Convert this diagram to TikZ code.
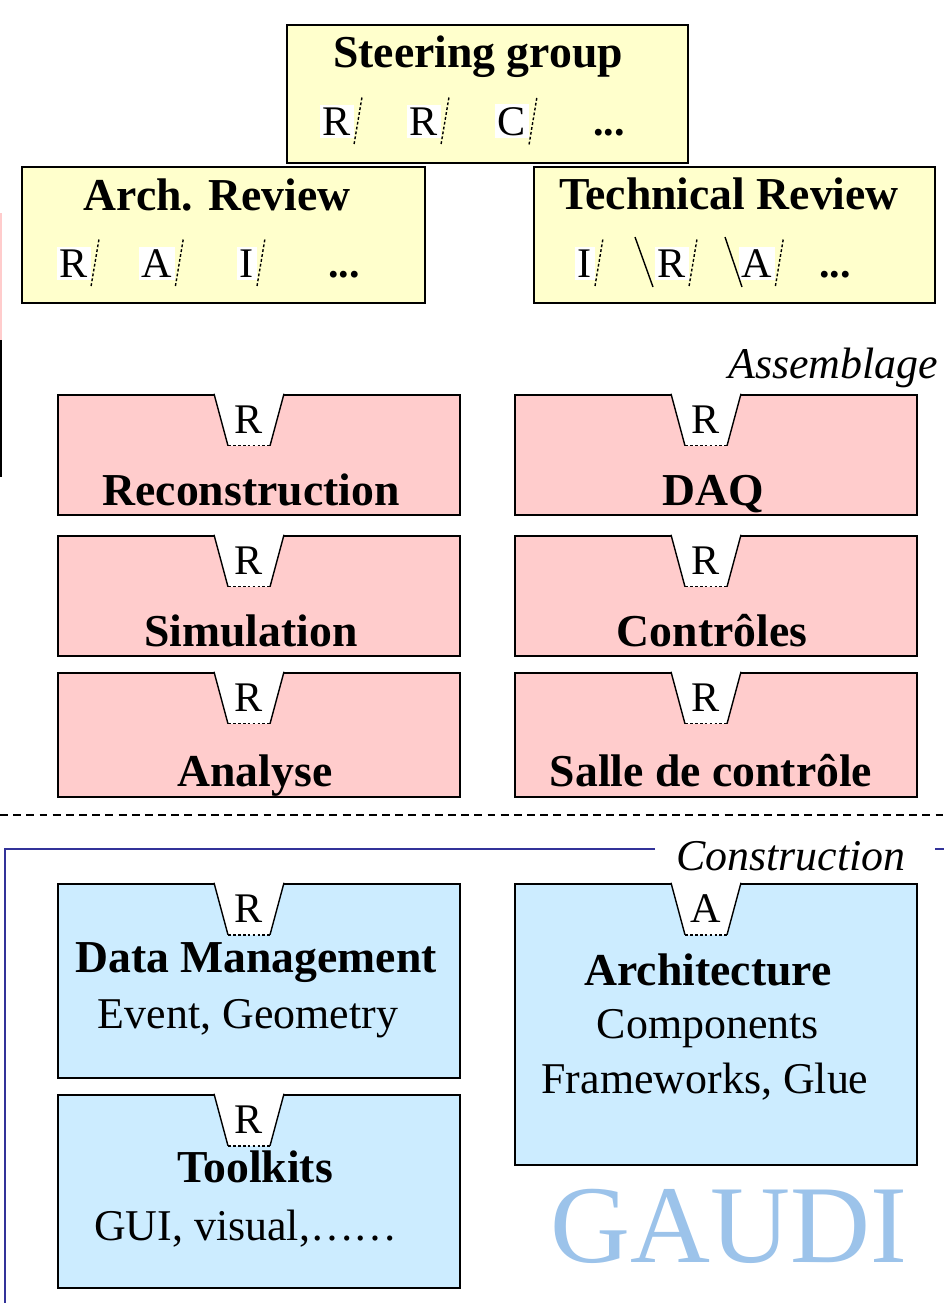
\documentclass[tikz,border=0pt]{standalone}
\usepackage{fontspec}
\setmainfont{Liberation Serif}
\usetikzlibrary{calc}
\definecolor{reviewfill}{HTML}{FFFFCC}
\definecolor{assemfill}{HTML}{FFCCCC}
\definecolor{constfill}{HTML}{CCECFF}
\definecolor{framecolor}{HTML}{333399}
\definecolor{gaudicolor}{HTML}{9CC3EA}
\tikzset{
  gd review/.style={draw=black,line width=1.4pt,fill=reviewfill,inner sep=0pt},
  gd assem/.style={draw=black,line width=1.4pt,fill=assemfill,inner sep=0pt,minimum width=8.04cm},
  gd const/.style={draw=black,line width=1.4pt,fill=constfill,inner sep=0pt,minimum width=8.04cm},
  gd title/.style={font=\fontsize{26}{30}\selectfont\bfseries,inner sep=0pt,anchor=base},
  gd text/.style={font=\fontsize{25}{29}\selectfont,inner sep=0pt,anchor=base},
  gd letter/.style={font=\fontsize{24}{28}\selectfont,inner sep=1.5pt,anchor=base},
  gd slash/.style={black,line width=.8pt,dash pattern=on 1.6pt off 1.2pt},
  gd side/.style={black,line width=.8pt},
  gd zone/.style={font=\fontsize{25}{29}\selectfont\itshape,inner sep=0pt,anchor=base west},
  gd frame/.style={framecolor,line width=1.3pt},
  gd cut/.style={black,line width=1.3pt,dash pattern=on 4.5pt off 3pt}
}

\begin{document}
\begin{tikzpicture}[x=0.02cm,y=-0.02cm]
  \useasboundingbox (0,0) rectangle (944,1303);
  % left edge remains
  \draw[assemfill,line width=1.3pt] (1,213)--(1,340);
  \draw[black,line width=1.3pt] (1,340)--(1,477);
  % review boxes
  \node[gd review,minimum width=8.02cm,minimum height=2.76cm] (steer) at (487.5,94) {};
  \node[gd review,minimum width=8.06cm,minimum height=2.72cm] (arch) at (223.5,235) {};
  \node[gd review,minimum width=8.02cm,minimum height=2.72cm] (tech) at (734.5,235) {};
  \node[gd title] (steer-t) at (478,67) {Steering group};
  \node[gd title] (arch-t) at (217,210) {Arch. Review};
  \node[gd title] (tech-t) at (729,209) {Technical Review};
  \foreach \n/\l/\x/\y in {s1/R/320/135, s2/R/407/135, s3/C/495/135,
      a1/R/57/277, a2/A/139/277, a3/I/237/277,
      t1/I/575/277, t2/R/655/277, t3/A/739/277}{
    \node[gd letter,fill=white,anchor=base west] (\n) at (\x,\y) {\l};
    \draw[gd slash] ($(\n.south east)+(0,6)$)--($(\n.north east)+(8,-8)$);
  }
  \draw[gd side] (635,237)--(653,287);
  \draw[gd side] (725,237)--(742,287);
  \node[gd letter,font=\fontsize{24}{28}\selectfont\bfseries] (s-dots) at (609,135) {...};
  \node[gd letter,font=\fontsize{24}{28}\selectfont\bfseries] (a-dots) at (344,277) {...};
  \node[gd letter,font=\fontsize{24}{28}\selectfont\bfseries] (t-dots) at (835,277) {...};
  % assemblage
  \node[gd zone] (assem-l) at (728,378) {Assemblage};
  \node[gd assem,minimum height=2.4cm] (reco) at (259,455) {};
  \node[gd assem,minimum height=2.4cm] (daq) at (716,455) {};
  \node[gd assem,minimum height=2.4cm] (simu) at (259,596) {};
  \node[gd assem,minimum height=2.4cm] (ctrl) at (716,596) {};
  \node[gd assem,minimum height=2.48cm] (ana) at (259,735) {};
  \node[gd assem,minimum height=2.48cm] (salle) at (716,735) {};
  \node[gd title] (reco-t) at (251,505) {Reconstruction};
  \node[gd title] (daq-t) at (713,505) {DAQ};
  \node[gd title] (simu-t) at (251,646) {Simulation};
  \node[gd title] (ctrl-t) at (712,646) {Contrôles};
  \node[gd title] (ana-t) at (255,786) {Analyse};
  \node[gd title] (salle-t) at (711,786) {Salle de contrôle};
  \draw[gd cut] (0,815)--(944,815);
  % construction
  \draw[gd frame] (655,849)--(5,849)--(5,1303);
  \draw[gd frame] (935,849)--(944,849);
  \node[gd zone] (const-l) at (676,870) {Construction};
  \node[gd const,minimum height=3.88cm] (datam) at (259,981) {};
  \node[gd const,minimum height=3.86cm] (tool) at (259,1191.5) {};
  \node[gd const,minimum height=5.62cm] (archi) at (716,1024.5) {};
  \node[gd title] (datam-t) at (256,972) {Data Management};
  \node[gd text] (datam-s) at (248,1028) {Event, Geometry};
  \node[gd title] (tool-t) at (255,1182) {Toolkits};
  \node[gd text] (tool-s) at (246,1240) {GUI, visual,……};
  \node[gd title] (archi-t) at (708,985) {Architecture};
  \node[gd text] (archi-s) at (708,1038) {Components};
  \node[gd text] (archi-u) at (705,1093) {Frameworks, Glue};
  \node[text=gaudicolor,font=\fontsize{63}{70}\selectfont,inner sep=0pt,anchor=base] (gaudi) at (729,1262) {GAUDI};
  % role tags on the boxes
  \foreach \b/\l in {reco/R,daq/R,simu/R,ctrl/R,ana/R,salle/R,datam/R,tool/R,archi/A}{
    \fill[white] ($(\b.north)+(-45,-1.5)$)--($(\b.north)+(25,-1.5)$)--($(\b.north)+(11,52)$)--($(\b.north)+(-31,52)$)--cycle;
    \draw[gd side] ($(\b.north)+(-45,0)$)--($(\b.north)+(-31,52)$);
    \draw[gd side] ($(\b.north)+(25,0)$)--($(\b.north)+(11,52)$);
    \draw[gd slash] ($(\b.north)+(-31,52)$)--($(\b.north)+(11,52)$);
    \node[gd letter] (\b-tag) at ($(\b.north)+(-10,40)$) {\l};
  }
\end{tikzpicture}
\end{document}
